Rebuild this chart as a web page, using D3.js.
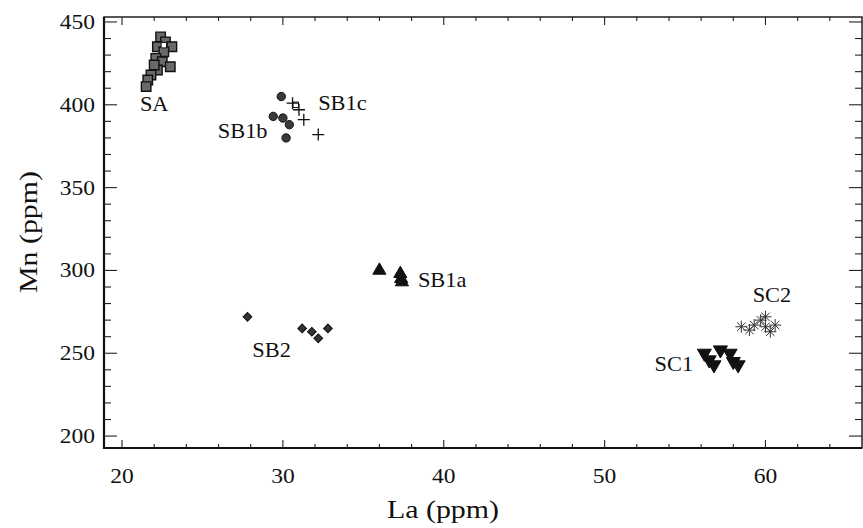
<!DOCTYPE html>
<html>
<head>
<meta charset="utf-8">
<script src="https://cdn.jsdelivr.net/npm/d3@7"></script>
<style>
  body { margin: 0; background: #fff; }
  svg text { font-family: "Liberation Serif", "DejaVu Serif", serif; fill: #111; }
</style>
</head>
<body>
<div id="chart"></div>
<script>
// La (x) and Mn (y) readings, ppm
const saLa = [22.4, 22.7, 23.1, 22.2, 22.6, 22.1, 22.5, 23.0, 22.2, 21.8, 21.6, 21.5, 22.0];
const saMn = [441, 438, 435, 435, 432, 428, 426, 423, 421, 418, 415, 411, 424];
const sb1bLa = [29.9, 29.4, 30.0, 30.4, 30.2];
const sb1bMn = [405, 393, 392, 388, 380];
const sb1cLa = [30.6, 31.0, 31.3, 32.2];
const sb1cMn = [401, 397, 391, 382];
const openLa = [22.6, 30.8];
const openMn = [436, 400];
const sb1aLa = [36.0, 37.3, 37.35, 37.4];
const sb1aMn = [300, 298, 295, 293];
const sb2La = [27.8, 31.2, 31.8, 32.2, 32.8];
const sb2Mn = [272, 265, 263, 259, 265];
const sc1La = [56.2, 56.5, 56.8, 57.2, 57.8, 58.0, 58.3];
const sc1Mn = [250, 246, 243, 252, 250, 245, 243];
const sc2La = [58.5, 59.0, 59.3, 59.7, 60.0, 60.3, 60.6, 60.0];
const sc2Mn = [266, 264, 267, 270, 266, 263, 267, 272];

const groupNames = ['SA', 'SB1b', 'SB1c', 'SB1a', 'SB2', 'SC1', 'SC2'];
const labelLa = [22.0, 27.5, 33.7, 39.9, 29.3, 54.3, 60.4];
const labelMn = [396, 380, 397, 290, 248, 239, 281];

const xTicks = [20, 30, 40, 50, 60];
const yTicks = [200, 250, 300, 350, 400, 450];

const zip = (a, b) => a.map((v, i) => [v, b[i]]);

const W = 863, H = 528;
const frame = { left: 104, top: 17, right: 862, bottom: 448 };

const svg = d3.select('#chart').append('svg')
  .attr('width', W).attr('height', H);

const x = d3.scaleLinear().domain([18.88, 66.0]).range([frame.left, frame.right]);
const y = d3.scaleLinear().domain([192.8, 453]).range([frame.bottom, frame.top]);

// text in the scan is a wide Times face: stretch it a little
function label(g, tx, ty, str, size, sx, anchor, rot) {
  return g.append('text')
    .attr('transform', `translate(${tx},${ty})` + (rot ? ` rotate(${rot})` : '') + ` scale(${sx},1)`)
    .attr('text-anchor', anchor || 'middle')
    .attr('font-size', size)
    .text(str);
}

// frame
svg.append('rect')
  .attr('x', frame.left).attr('y', frame.top)
  .attr('width', frame.right - frame.left).attr('height', frame.bottom - frame.top)
  .attr('fill', 'none').attr('stroke', '#111').attr('stroke-width', 1.4);
svg.append('path')
  .attr('d', `M${frame.left},${frame.top}V${frame.bottom}H${frame.right}`)
  .attr('fill', 'none').attr('stroke', '#111').attr('stroke-width', 2.2);

// ticks, drawn inward on all four sides
const xMinor = d3.range(20, 66, 2);
const yMinor = d3.range(200, 451, 10);
const tg = svg.append('g').attr('stroke', '#222').attr('stroke-width', 1.1);
xMinor.forEach(v => {
  const len = xTicks.includes(v) ? 8 : 4;
  tg.append('line').attr('x1', x(v)).attr('x2', x(v)).attr('y1', frame.bottom).attr('y2', frame.bottom - len);
  tg.append('line').attr('x1', x(v)).attr('x2', x(v)).attr('y1', frame.top).attr('y2', frame.top + len);
});
yMinor.forEach(v => {
  const len = yTicks.includes(v) ? 13 : 7;
  tg.append('line').attr('y1', y(v)).attr('y2', y(v)).attr('x1', frame.left).attr('x2', frame.left + len);
  tg.append('line').attr('y1', y(v)).attr('y2', y(v)).attr('x1', frame.right).attr('x2', frame.right - len);
});

const tickG = svg.append('g');
xTicks.forEach(d => label(tickG, x(d), 483, d, 21, 1.12));
yTicks.forEach(d => label(tickG, 95, y(d) + 7, d, 21, 1.12, 'end'));

label(svg, 443, 518, 'La (ppm)', 26, 1.15);
label(svg, 37, 232, 'Mn (ppm)', 26, 1.15, 'middle', -90);

// markers
function plot(pts, type, size, fill, stroke, sw, rot) {
  svg.append('g').selectAll('path').data(pts).join('path')
    .attr('transform', d => `translate(${x(d[0])},${y(d[1])})` + (rot ? ` rotate(${rot})` : ''))
    .attr('d', d3.symbol().type(type).size(size))
    .attr('fill', fill).attr('stroke', stroke).attr('stroke-width', sw);
}
plot(zip(saLa, saMn), d3.symbolSquare, 90, '#6a6a6a', '#111', 1.4);
plot(zip(openLa, openMn), d3.symbolSquare, 30, '#fff', '#111', 1);
plot(zip(sb1bLa, sb1bMn), d3.symbolCircle, 55, '#3a3a3a', '#111', 1);
// thin plus signs for SB1c
svg.append('g').attr('stroke', '#111').attr('stroke-width', 1.3)
  .selectAll('path').data(zip(sb1cLa, sb1cMn)).join('path')
  .attr('d', d => `M${x(d[0]) - 6},${y(d[1])}h12M${x(d[0])},${y(d[1]) - 6}v12`);
plot(zip(sb1aLa, sb1aMn), d3.symbolTriangle, 75, '#111', '#111', 1);
plot(zip(sb2La, sb2Mn), d3.symbolSquare, 38, '#333', '#111', 1, 45);
plot(zip(sc1La, sc1Mn), d3.symbolTriangle, 85, '#111', '#111', 1, 180);
// asterisks for SC2
svg.append('g').attr('stroke', '#333').attr('stroke-width', 1)
  .selectAll('path').data(zip(sc2La, sc2Mn)).join('path')
  .attr('d', d => {
    const cx = x(d[0]), cy = y(d[1]), r = 6, q = 4.2;
    return `M${cx - r},${cy}h${2 * r}M${cx},${cy - r}v${2 * r}` +
      `M${cx - q},${cy - q}l${2 * q},${2 * q}M${cx - q},${cy + q}l${2 * q},${-2 * q}`;
  });

// group labels
const lg = svg.append('g');
groupNames.forEach((d, i) => label(lg, x(labelLa[i]), y(labelMn[i]), d, 20, 1.12));
</script>
</body>
</html>
